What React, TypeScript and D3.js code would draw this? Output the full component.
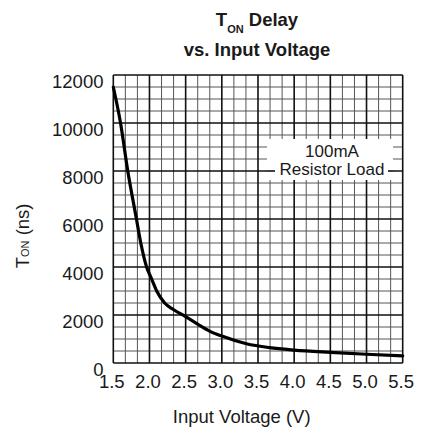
import React from "react";
import * as d3 from "d3";

const voltage = [1.5, 1.6, 1.7, 1.82, 1.88, 1.96, 2.03, 2.1, 2.21, 2.33, 2.5, 2.67, 2.83, 3.0, 3.34, 3.66, 4.0, 4.5, 5.0, 5.5];
const tonNs = [11500, 10000, 8000, 6000, 5000, 4000, 3500, 3000, 2500, 2230, 1930, 1610, 1330, 1120, 800, 640, 540, 445, 365, 300];
const xTicks = [1.5, 2.0, 2.5, 3.0, 3.5, 4.0, 4.5, 5.0, 5.5];
const yTicks = [0, 2000, 4000, 6000, 8000, 10000, 12000];
const legendLines = ["100mA", "Resistor Load"];

const FONT = "'Liberation Sans', Arial, Helvetica, sans-serif";

export default function App() {
  const left = 113.3, right = 402.7, top = 75, bottom = 363;
  const x = d3.scaleLinear().domain([1.5, 5.5]).range([left, right]);
  const y = d3.scaleLinear().domain([0, 12000]).range([bottom, top]);

  const xMinor = d3.range(0, 25).map((i) => 1.5 + i / 6);
  const yMinor = d3.range(0, 25).map((i) => i * 500);

  const pts: [number, number][] = voltage.map((v, i) => [v, tonNs[i]]);
  const line = d3
    .line<[number, number]>()
    .x((d) => x(d[0]))
    .y((d) => y(d[1]))
    .curve(d3.curveMonotoneX);

  const boxL = 267, boxR = 393, boxT = 139, boxB = 180;

  return (
    <svg
      width={428}
      height={428}
      style={{ position: "fixed", left: 0, top: 0, background: "#fff" }}
      fontFamily={FONT}
    >
      <rect x={0} y={0} width={428} height={428} fill="#fff" />
      {/* title */}
      <text x={257} y={26} textAnchor="middle" fontSize={18.5} fontWeight="bold" fill="#1a1a1a">
        T
        <tspan fontSize={11} dy={7}>ON</tspan>
        <tspan dy={-7}> Delay</tspan>
      </text>
      <text x={257} y={56} textAnchor="middle" fontSize={18.5} fontWeight="bold" fill="#1a1a1a">
        vs. Input Voltage
      </text>

      {/* minor grid */}
      {xMinor.map((v, i) =>
        i % 3 === 0 ? null : (
          <line key={"xm" + i} x1={x(v)} x2={x(v)} y1={top} y2={bottom} stroke="#555" strokeWidth={1} />
        )
      )}
      {yMinor.map((v, i) =>
        i % 4 === 0 ? null : (
          <line key={"ym" + i} x1={left} x2={right} y1={y(v)} y2={y(v)} stroke="#555" strokeWidth={1} />
        )
      )}
      {/* major grid */}
      {xTicks.map((v) => (
        <line key={"xM" + v} x1={x(v)} x2={x(v)} y1={top} y2={bottom} stroke="#111" strokeWidth={1.6} />
      ))}
      {yTicks.map((v) => (
        <line key={"yM" + v} x1={left} x2={right} y1={y(v)} y2={y(v)} stroke="#111" strokeWidth={1.6} />
      ))}

      {/* legend box */}
      <rect x={boxL} y={boxT} width={boxR - boxL} height={boxB - boxT} fill="#fff" />
      <line x1={boxL} x2={275} y1={y(8000)} y2={y(8000)} stroke="#111" strokeWidth={1.6} />
      <line x1={388} x2={boxR} y1={y(8000)} y2={y(8000)} stroke="#111" strokeWidth={1.6} />
      <text x={332} y={157} textAnchor="middle" fontSize={17} fill="#1a1a1a">{legendLines[0]}</text>
      <text x={332} y={175} textAnchor="middle" fontSize={17} fill="#1a1a1a">{legendLines[1]}</text>

      {/* curve */}
      <path d={line(pts) || ""} fill="none" stroke="#000" strokeWidth={3.2} strokeLinejoin="round" strokeLinecap="round" />

      {/* y tick labels */}
      {yTicks.map((v) => (
        <text key={"yl" + v} x={103.5} y={y(v) + 12.5} textAnchor="end" fontSize={18.5} fill="#1a1a1a">
          {v}
        </text>
      ))}
      {/* x tick labels */}
      {xTicks.map((v) => (
        <text key={"xl" + v} x={x(v) - 1.5} y={388} textAnchor="middle" fontSize={18.5} fill="#1a1a1a">
          {v.toFixed(1)}
        </text>
      ))}

      {/* axis titles */}
      <text x={241.7} y={423} textAnchor="middle" fontSize={18.5} fill="#1a1a1a">
        Input Voltage (V)
      </text>
      <text x={29} y={268.3} transform="rotate(-90, 29, 268.3)" textAnchor="start" fontSize={18.5} fill="#1a1a1a">
        T<tspan fontSize={11}>ON</tspan> (ns)
      </text>
    </svg>
  );
}
